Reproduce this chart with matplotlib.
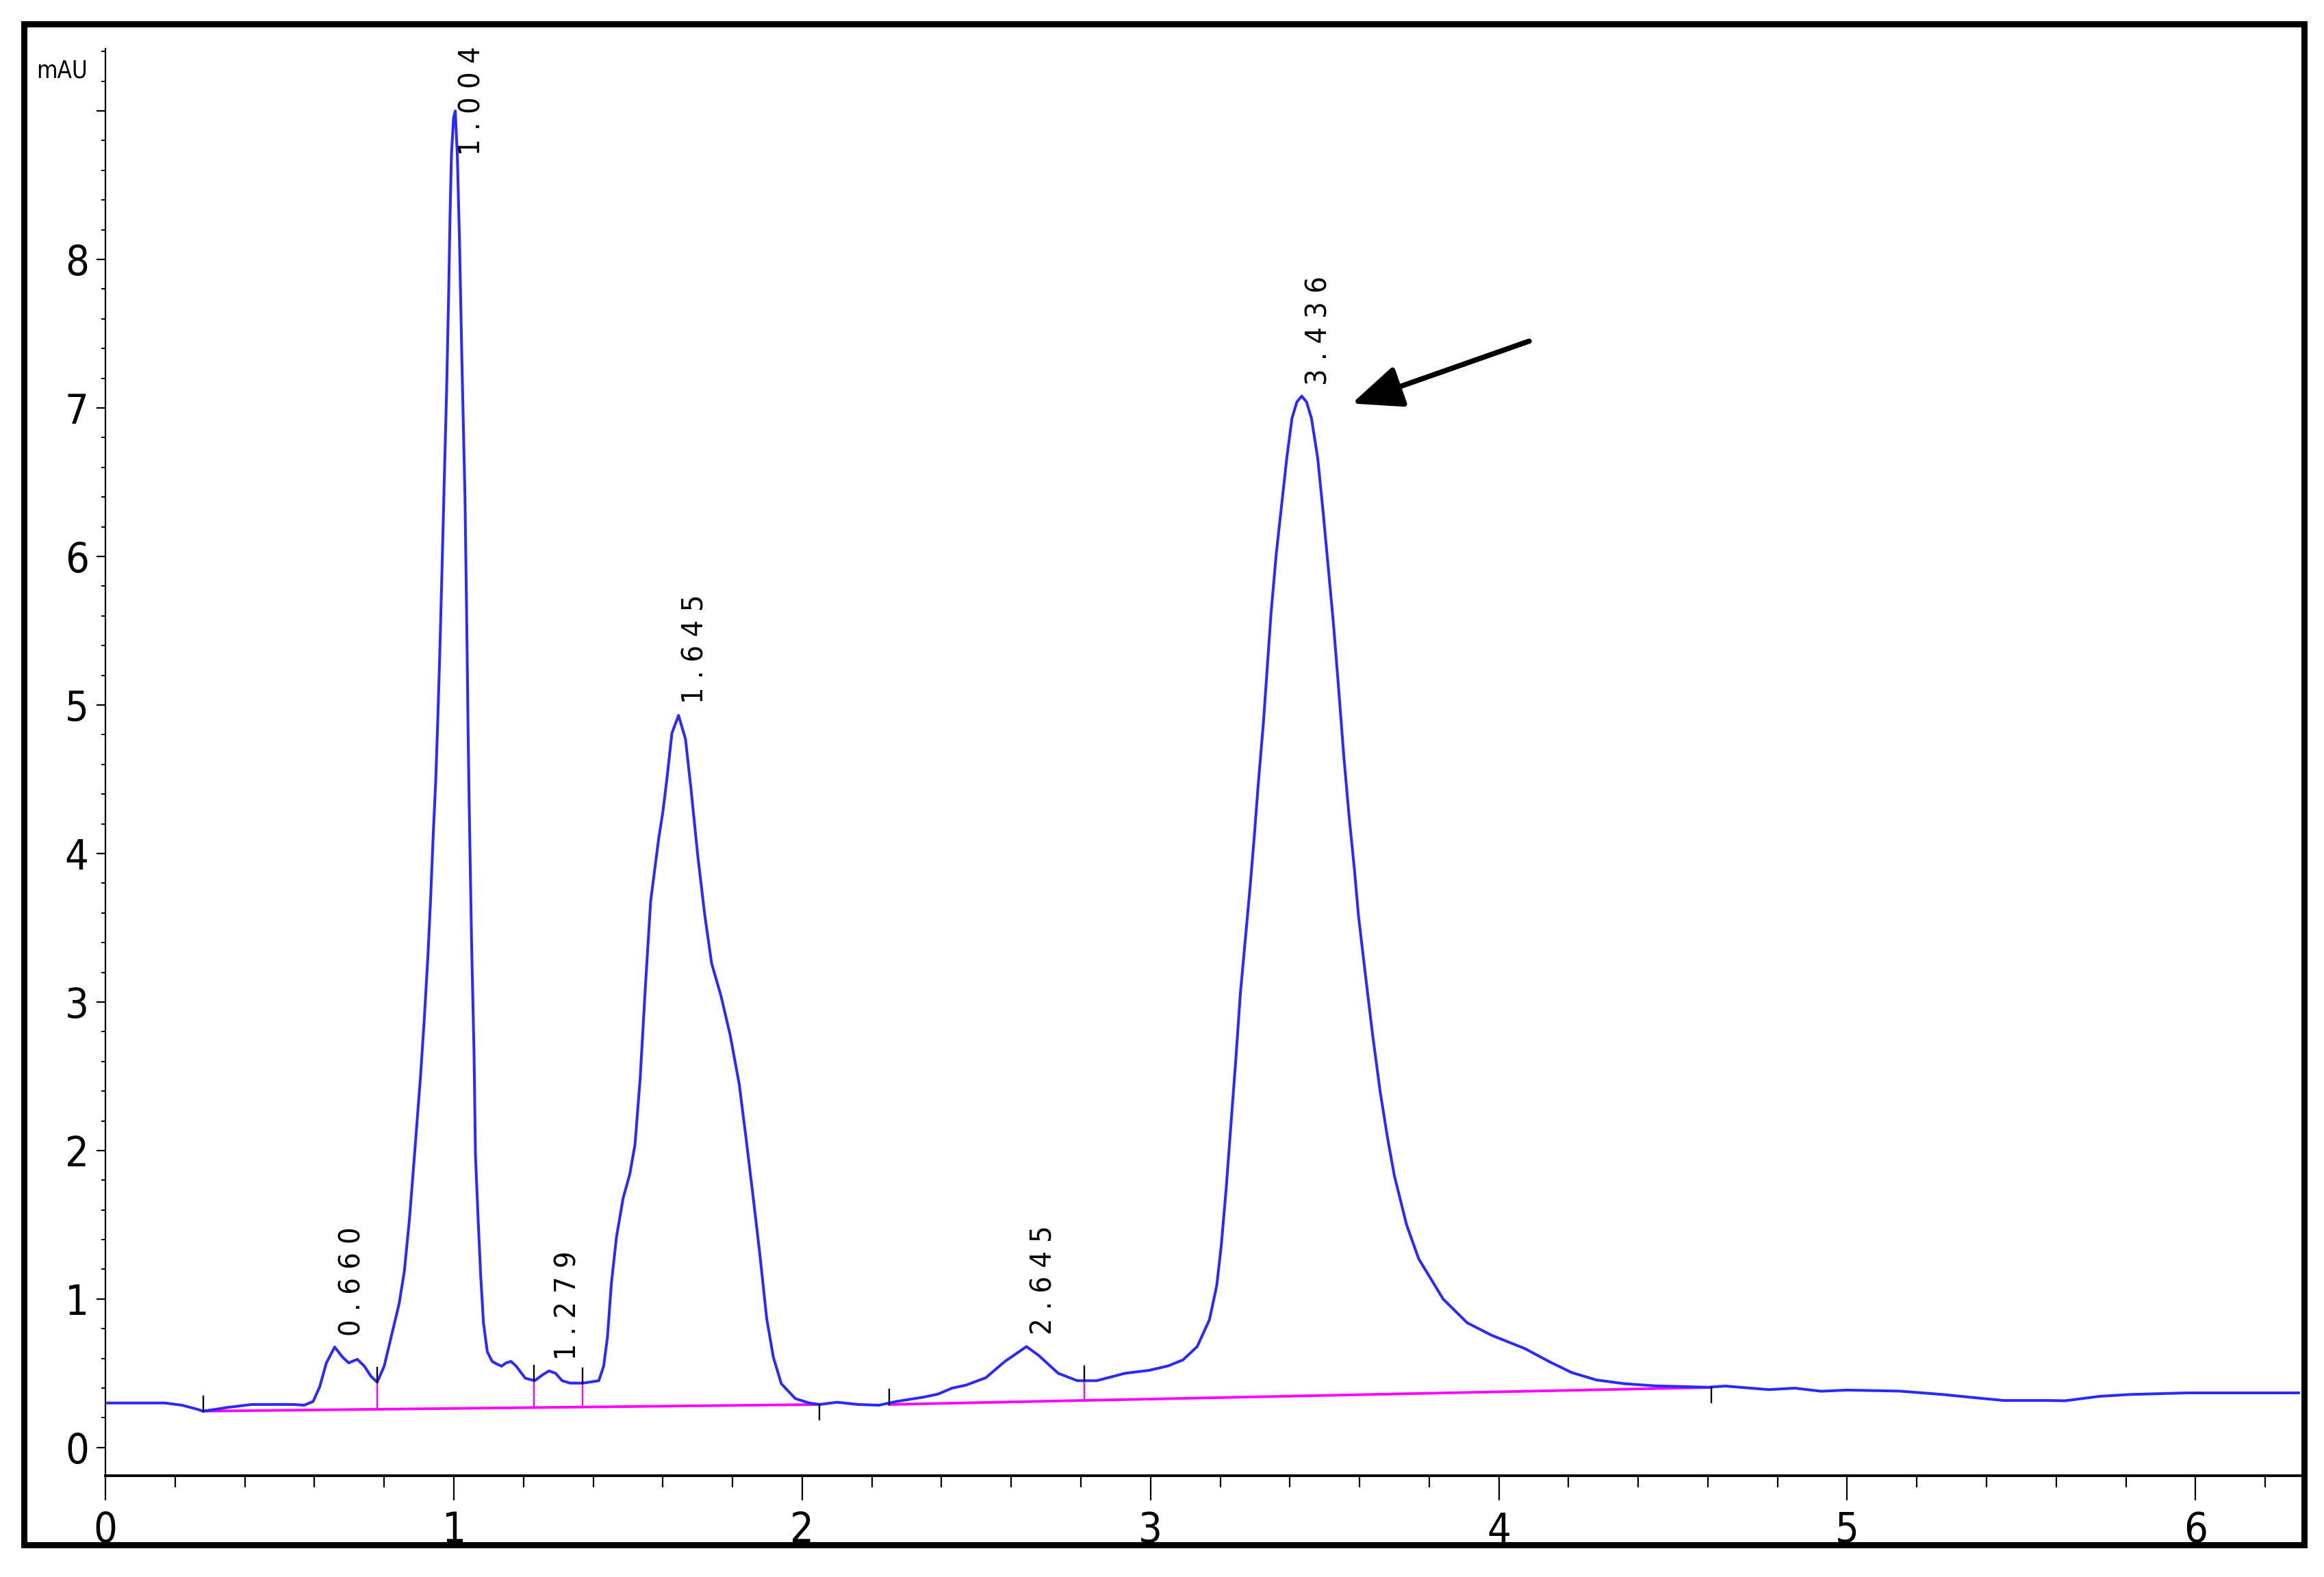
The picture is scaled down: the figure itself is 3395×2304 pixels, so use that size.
import numpy as np
import matplotlib
matplotlib.use("Agg")
import matplotlib.pyplot as plt
from matplotlib import font_manager
from matplotlib.patches import Rectangle

# chromatogram trace (time in min, signal in mAU)
time_min = [0.00, 0.10, 0.17, 0.22, 0.26, 0.28, 0.31, 0.35, 0.42, 0.54, 0.57, 0.596, 0.615, 0.634,
            0.658, 0.68, 0.698, 0.723, 0.743, 0.762, 0.78, 0.80, 0.82, 0.843, 0.858, 0.873, 0.888,
            0.904, 0.915, 0.926, 0.933, 0.941, 0.948, 0.954, 0.960, 0.966, 0.972, 0.979, 0.985,
            0.989, 0.993, 0.999, 1.004, 1.010, 1.016, 1.023, 1.032, 1.038, 1.041, 1.044, 1.051,
            1.058, 1.062, 1.070, 1.077, 1.085, 1.096, 1.11, 1.122, 1.137, 1.150, 1.164, 1.179,
            1.205, 1.232, 1.255, 1.273, 1.292, 1.311, 1.334, 1.371, 1.416, 1.43, 1.441, 1.452,
            1.467, 1.486, 1.505, 1.520, 1.535, 1.550, 1.565, 1.577, 1.588, 1.60, 1.611, 1.626,
            1.645, 1.665, 1.681, 1.70, 1.72, 1.74, 1.767, 1.793, 1.819, 1.839, 1.858, 1.878,
            1.898, 1.917, 1.94, 1.98, 2.02, 2.05, 2.10, 2.16, 2.22, 2.27, 2.35, 2.39, 2.43, 2.47,
            2.527, 2.582, 2.644, 2.679, 2.735, 2.79, 2.845, 2.927, 2.996, 3.051, 3.093, 3.134,
            3.169, 3.19, 3.203, 3.217, 3.231, 3.245, 3.258, 3.272, 3.286, 3.298, 3.309, 3.324,
            3.335, 3.346, 3.361, 3.376, 3.391, 3.406, 3.420, 3.434, 3.448, 3.462, 3.48, 3.495,
            3.51, 3.525, 3.54, 3.555, 3.57, 3.585, 3.597, 3.617, 3.638, 3.659, 3.68, 3.70, 3.735,
            3.77, 3.84, 3.909, 3.98, 4.075, 4.145, 4.209, 4.28, 4.36, 4.45, 4.60, 4.65, 4.775,
            4.85, 4.925, 5.0, 5.15, 5.275, 5.36, 5.45, 5.575, 5.625, 5.725, 5.81, 5.975, 6.31]
signal_mau = [0.30, 0.30, 0.30, 0.285, 0.26, 0.245, 0.255, 0.27, 0.29, 0.29, 0.285, 0.31, 0.41, 0.57,
              0.677, 0.61, 0.57, 0.594, 0.548, 0.48, 0.44, 0.548, 0.744, 0.97, 1.19, 1.55, 2.00,
              2.49, 2.88, 3.33, 3.68, 4.14, 4.49, 4.91, 5.38, 5.91, 6.47, 7.10, 7.76,
              8.29, 8.70, 8.95, 9.00, 8.70, 8.15, 7.33, 6.39, 5.38, 4.80, 4.33, 3.39,
              2.65, 1.97, 1.52, 1.16, 0.84, 0.645, 0.58, 0.564, 0.548, 0.57, 0.58, 0.548,
              0.467, 0.45, 0.49, 0.516, 0.50, 0.45, 0.434, 0.434, 0.45, 0.548, 0.744, 1.10,
              1.42, 1.68, 1.84, 2.04, 2.49, 3.11, 3.68, 3.90, 4.10, 4.28, 4.49, 4.81,
              4.93, 4.77, 4.43, 3.99, 3.59, 3.26, 3.04, 2.78, 2.45, 2.08, 1.71, 1.31,
              0.87, 0.61, 0.43, 0.33, 0.30, 0.29, 0.305, 0.29, 0.285, 0.31, 0.34, 0.36, 0.40, 0.42,
              0.47, 0.58, 0.68, 0.62, 0.50, 0.45, 0.45, 0.50, 0.52, 0.55, 0.59, 0.68,
              0.86, 1.09, 1.36, 1.74, 2.18, 2.62, 3.06, 3.42, 3.78, 4.12, 4.46, 4.88,
              5.25, 5.62, 6.02, 6.34, 6.66, 6.93, 7.04, 7.08, 7.04, 6.93, 6.66, 6.31,
              5.93, 5.55, 5.11, 4.65, 4.25, 3.90, 3.58, 3.18, 2.77, 2.40, 2.09, 1.83, 1.50,
              1.27, 1.00, 0.84, 0.755, 0.666, 0.578, 0.505, 0.455, 0.43, 0.415, 0.406, 0.414, 0.39,
              0.40, 0.379, 0.387, 0.38, 0.357, 0.337, 0.317, 0.317, 0.315, 0.345, 0.357, 0.368, 0.368]

# integration: retention times, baseline segments, peak boundaries
retention_times = [0.660, 1.004, 1.279, 1.645, 2.645, 3.436]
peak_labels = ["0 . 6 6 0", "1 . 0 0 4", "1 . 2 7 9", "1 . 6 4 5", "2 . 6 4 5", "3 . 4 3 6"]
baseline_segments = [([0.28, 2.05], [0.245, 0.29]), ([2.25, 4.61], [0.29, 0.405])]
segment_starts = [0.28, 2.25]
segment_ends = [2.05, 4.61]
split_points = [0.78, 1.23, 1.37, 2.81]

# arrow pointing at the main peak
arrow_tail = (4.087, 7.45)
arrow_head = (3.578, 7.03)

x_ticks = [0, 1, 2, 3, 4, 5, 6]
y_ticks = [0, 1, 2, 3, 4, 5, 6, 7, 8, 9]
y_ticklabels = ["0", "1", "2", "3", "4", "5", "6", "7", "8", ""]

installed = {f.name for f in font_manager.fontManager.ttflist}
if "Liberation Sans Narrow" in installed:
    plt.rcParams["font.family"] = ["Liberation Sans Narrow", "DejaVu Sans"]
else:
    plt.rcParams["font.family"] = ["DejaVu Sans"]
    plt.rcParams["font.stretch"] = "condensed"

trace_blue = "#2a2aff"
base_pink = "#ff00ff"

fig = plt.figure(figsize=(33.95, 23.04), dpi=100)
ax = fig.add_axes([0.0454, 0.0642, 0.9443, 0.905])

ax.plot(time_min, signal_mau, color=trace_blue, lw=2.9, zorder=3)

# baselines
for bx, by in baseline_segments:
    ax.plot(bx, by, color=base_pink, lw=2.8, zorder=2)

def baseline_at(t):
    for bx, by in baseline_segments:
        if bx[0] <= t <= bx[1]:
            return np.interp(t, bx, by)
    return np.nan

# peak start/end ticks
for t in segment_starts:
    b = baseline_at(t)
    ax.plot([t, t], [b, b + 0.1], color="black", lw=1.7, zorder=4)
for t in segment_ends:
    b = baseline_at(t)
    ax.plot([t, t], [b, b - 0.1], color="black", lw=1.7, zorder=4)
# drop lines between overlapping peaks
for t in split_points:
    s = np.interp(t, time_min, signal_mau)
    b = baseline_at(t)
    ax.plot([t, t], [b, s], color=base_pink, lw=1.7, zorder=2)
    ax.plot([t, t], [s, s + 0.1], color="black", lw=1.7, zorder=4)

# retention time labels
ytop = 9.42
label_len = 0.64
for rt, lab in zip(retention_times, peak_labels):
    h = np.interp(rt, time_min, signal_mau)
    y = h + 0.08
    if y + label_len > ytop - 0.08:
        y = ytop - 0.08 - label_len
    ax.text(rt + 0.006, y, lab, rotation=90, ha="left", va="bottom",
            fontsize=31, color="black", zorder=5)

ax.annotate("", xy=arrow_head, xytext=arrow_tail,
            arrowprops=dict(arrowstyle="-|>,head_length=0.9,head_width=0.38",
                            mutation_scale=50, lw=5.5, color="black",
                            shrinkA=0, shrinkB=0), zorder=6)

ax.set_xlim(0, 6.30)
ax.set_ylim(-0.19, ytop)
ax.set_xticks(x_ticks)
ax.set_xticks(np.arange(0, 6.3, 0.2), minor=True)
ax.set_yticks(y_ticks)
ax.set_yticklabels(y_ticklabels)
ax.set_yticks(np.arange(0, 9.5, 0.2), minor=True)

ax.tick_params(axis="x", which="major", direction="out", length=26, width=1.6,
               labelsize=44, pad=11)
ax.tick_params(axis="x", which="minor", direction="out", length=12, width=1.6)
ax.tick_params(axis="y", which="major", direction="out", length=9.5, width=1.6,
               labelsize=44, pad=8)
ax.tick_params(axis="y", which="minor", direction="out", length=4.5, width=1.4)

for side in ["top", "right"]:
    ax.spines[side].set_visible(False)
ax.spines["left"].set_linewidth(1.6)
ax.spines["bottom"].set_linewidth(2.8)

ax.text(-0.008, 9.27, "mAU", transform=ax.get_yaxis_transform(), ha="right", va="center",
        fontsize=25, color="black")

# outer black frame
fig.patches.append(Rectangle((0.0103, 0.0204), 0.9812, 0.9644, transform=fig.transFigure,
                             fill=False, lw=6.5, edgecolor="black", zorder=10))

fig.savefig("out.png", dpi=100)
